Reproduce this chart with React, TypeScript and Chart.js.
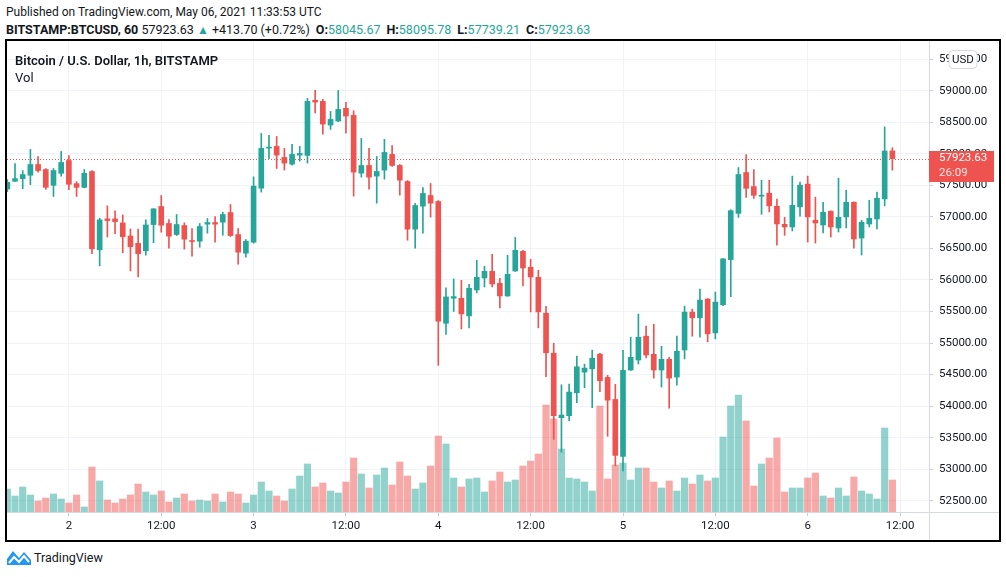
import React, { useEffect, useRef } from "react";
import { Chart, registerables } from "chart.js";

Chart.register(...registerables);

// ---- data (hourly candles, BITSTAMP BTC/USD, May 1 16:00 -> May 6 11:00 UTC) ----
const opens = [
  57441, 57564, 57606, 57660, 57830, 57750, 57500, 57691, 57894, 57527,
  57468, 57718, 56478, 56968, 56968, 56904, 56697, 56580, 56463, 56878,
  57164, 56895, 56720, 56863, 56625, 56614, 56884, 56910, 56916, 57069,
  56720, 56424, 56598, 57455, 58090, 58117, 57942, 57836, 57979, 57974,
  58847, 58831, 58455, 58519, 58720, 58609, 57693, 57815, 57646, 57741,
  57990, 57815, 57561, 56805, 57170, 57339, 57244, 55313, 55710, 55709,
  55430, 55841, 56031, 56136, 55947, 55746, 56142, 56453, 56200, 56042,
  55472, 54839, 53816, 53848, 54212, 54539, 54591, 54824, 54455, 54105,
  53202, 54572, 54731, 55108, 54821, 54572, 54741, 54460, 54890, 55490,
  55400, 55697, 55161, 55607, 56323, 57055, 57703, 57480, 57328, 57375,
  57168, 56882, 56840, 57158, 57519, 56946, 56871, 57089, 56824, 56999,
  57232, 56664, 56887, 56967, 57285, 58045.67,
];
const highs = [
  57590, 57846, 57734, 58069, 57957, 57766, 57766, 58037, 57973, 57558,
  57750, 57734, 56979, 57175, 57096, 57032, 56808, 56808, 56952, 57128,
  57339, 56958, 57037, 56905, 56815, 56895, 56974, 57006, 57074, 57196,
  56815, 56641, 57635, 58323, 58291, 58275, 58085, 58148, 58117, 58878,
  59005, 58862, 58672, 59005, 58815, 58683, 58244, 58085, 57958, 58228,
  58132, 57830, 57575, 57212, 57466, 57529, 57260, 55874, 56016, 55994,
  55931, 56310, 56216, 56405, 56026, 56390, 56674, 56469, 56326, 56152,
  55583, 54997, 54338, 54349, 54792, 54665, 54887, 54835, 54487, 54344,
  54885, 55092, 55458, 55267, 55299, 54948, 54773, 55108, 55585, 55538,
  55856, 55705, 55808, 56340, 57114, 57782, 57989, 57751, 57582, 57582,
  57280, 56993, 57646, 57550, 57646, 57312, 57232, 57095, 57614, 57423,
  57240, 56946, 57264, 57391, 58426, 58095.78,
];
const lows = [
  57400, 57560, 57447, 57511, 57707, 57436, 57324, 57644, 57431, 57324,
  57460, 56415, 56223, 56681, 56734, 56431, 56143, 56048, 56393, 56590,
  56757, 56503, 56704, 56487, 56376, 56519, 56741, 56598, 56709, 56688,
  56249, 56360, 56582, 57392, 57921, 57767, 57741, 57820, 57884, 57852,
  58646, 58312, 58386, 58510, 58328, 57328, 57630, 57439, 57217, 57598,
  57799, 57344, 56630, 56503, 56741, 56995, 54646, 55138, 55500, 55224,
  55240, 55794, 55889, 55889, 55556, 55740, 56135, 55904, 55493, 55240,
  54465, 53474, 53268, 53769, 54054, 54291, 53975, 54228, 53521, 53054,
  52974, 54565, 54667, 54763, 54444, 54301, 53966, 54333, 54747, 55108,
  55092, 55018, 55065, 55591, 55734, 56992, 57310, 57294, 57041, 57078,
  56553, 56707, 56776, 57009, 56601, 56585, 56744, 56680, 56760, 56824,
  56505, 56394, 56840, 56808, 57174, 57739.21,
];
const closes = [
  57548, 57606, 57670, 57830, 57734, 57468, 57734, 57862, 57516, 57468,
  57691, 56494, 56952, 56941, 56925, 56686, 56526, 56415, 56872, 57128,
  56868, 56694, 56879, 56646, 56609, 56847, 56910, 56884, 57037, 56704,
  56440, 56614, 57487, 58085, 58106, 57979, 57852, 57990, 58005, 58831,
  58820, 58471, 58545, 58704, 58598, 57709, 57815, 57630, 57720, 58021,
  57815, 57582, 56805, 57180, 57371, 57217, 55345, 55731, 55736, 55461,
  55868, 56042, 56136, 55936, 55746, 56089, 56469, 56189, 56047, 55493,
  54845, 53848, 53858, 54222, 54623, 54602, 54760, 54402, 54094, 53218,
  54566, 54773, 55092, 54810, 54572, 54741, 54444, 54869, 55490, 55400,
  55681, 55145, 55649, 56334, 57098, 57671, 57453, 57342, 57344, 57174,
  56887, 56840, 57184, 57503, 56999, 56903, 57073, 56840, 56993, 57232,
  56649, 56914, 56977, 57296, 58044, 57923.63,
];
const volumes = [
  69, 48, 75, 51, 33, 42, 54, 39, 27, 51,
  15, 135, 93, 36, 27, 39, 51, 84, 60, 51,
  63, 30, 42, 54, 33, 36, 33, 54, 30, 60,
  54, 27, 51, 90, 63, 48, 33, 69, 108, 144,
  75, 87, 63, 57, 90, 162, 114, 72, 111, 132,
  81, 150, 108, 69, 87, 138, 228, 204, 102, 75,
  99, 102, 60, 93, 120, 90, 96, 138, 153, 174,
  321, 279, 189, 102, 99, 90, 63, 318, 99, 141,
  147, 96, 132, 132, 90, 72, 93, 63, 102, 84,
  111, 93, 102, 225, 318, 351, 273, 78, 144, 162,
  222, 60, 72, 72, 102, 117, 48, 42, 72, 48,
  105, 63, 54, 39, 252, 96,
];
const timeTickHours = [8, 20, 32, 44, 56, 68, 80, 92, 104, 116];
const timeTickLabels = ["2", "12:00", "3", "12:00", "4", "12:00", "5", "12:00", "6", "12:00"];
const priceTicks = [52500, 53000, 53500, 54000, 54500, 55000, 55500, 56000, 56500, 57000, 57500, 58000, 58500, 59000, 59500];
const countdown = "26:09";
const changeText = "+413.70 (+0.72%)";

const UP = "#26a69a";
const DOWN = "#ef5350";
const UP_VOL = "rgba(38,166,154,0.5)";
const DOWN_VOL = "rgba(239,83,80,0.5)";
const TEXT = "#131722";
const FONT = "Roboto, 'Liberation Sans', sans-serif";

const last = closes.length - 1;

const overlayPlugin = {
  id: "tvOverlay",
  beforeDatasetsDraw(chart: any) {
    const { ctx, chartArea, scales } = chart;
    const py = Math.round(scales.y.getPixelForValue(closes[last])) + 0.5;
    ctx.save();
    ctx.strokeStyle = DOWN;
    ctx.lineWidth = 1;
    ctx.setLineDash([1, 2]);
    ctx.beginPath();
    ctx.moveTo(chartArea.left, py);
    ctx.lineTo(chartArea.right, py);
    ctx.stroke();
    ctx.restore();
  },
  afterDraw(chart: any) {
    const { ctx, chartArea, scales } = chart;
    const W = chart.width;
    const H = chart.height;
    ctx.save();
    ctx.strokeStyle = "#d6d9e0";
    ctx.lineWidth = 1;
    const rx = Math.round(chartArea.right) + 0.5;
    const by = Math.round(chartArea.bottom) + 0.5;
    ctx.beginPath();
    ctx.moveTo(rx, 0);
    ctx.lineTo(rx, H);
    ctx.moveTo(0, by);
    ctx.lineTo(W, by);
    ctx.stroke();
    const py = scales.y.getPixelForValue(closes[last]);
    ctx.fillStyle = DOWN;
    ctx.fillRect(rx - 0.5, Math.round(py) - 8, 65, 31);
    ctx.fillStyle = "#ffffff";
    ctx.font = `11.5px ${FONT}`;
    ctx.textBaseline = "middle";
    ctx.textAlign = "left";
    ctx.fillText(closes[last].toFixed(2), rx + 9.5, py);
    ctx.fillStyle = "rgba(255,255,255,0.85)";
    ctx.fillText(countdown, rx + 9.5, py + 15);
    const bx = rx + 19.5;
    const bw = 28;
    const byy = 9.5;
    const bh = 18;
    ctx.beginPath();
    ctx.roundRect(bx, byy, bw, bh, 4);
    ctx.fillStyle = "#ffffff";
    ctx.fill();
    ctx.strokeStyle = "#d6d9e0";
    ctx.stroke();
    ctx.fillStyle = TEXT;
    ctx.textAlign = "center";
    ctx.fillText("USD", bx + bw / 2, byy + bh / 2 + 0.5);
    ctx.restore();
  },
};

function ChartView() {
  const ref = useRef<HTMLCanvasElement | null>(null);
  useEffect(() => {
    if (!ref.current) return;
    const candleColor = opens.map((o, i) => (closes[i] >= o ? UP : DOWN));
    const volColor = opens.map((o, i) => (closes[i] >= o ? UP_VOL : DOWN_VOL));
    const chart = new Chart(ref.current, {
      type: "bar",
      data: {
        datasets: [
          {
            label: "body",
            data: opens.map((o, i) => ({ x: i, y: [o, closes[i]] })) as any,
            backgroundColor: candleColor,
            borderWidth: 0,
            barThickness: 5,
            maxBarThickness: 5,
            minBarLength: 1,
            grouped: false,
            order: 0,
            yAxisID: "y",
          },
          {
            label: "wick",
            data: lows.map((l, i) => ({ x: i, y: [l, highs[i]] })) as any,
            backgroundColor: candleColor,
            borderWidth: 0,
            barThickness: 1,
            maxBarThickness: 1,
            grouped: false,
            order: 1,
            yAxisID: "y",
          },
          {
            label: "volume",
            data: volumes.map((v, i) => ({ x: i, y: v })) as any,
            backgroundColor: volColor,
            borderWidth: 0,
            barThickness: 6.5,
            maxBarThickness: 6.5,
            grouped: false,
            order: 2,
            yAxisID: "yVol",
          },
        ],
      },
      options: {
        animation: false,
        responsive: false,
        events: [],
        layout: { padding: 0 },
        plugins: { legend: { display: false }, tooltip: { enabled: false } },
        font: { family: FONT },
        scales: {
          x: {
            type: "linear",
            min: -0.04,
            max: 119.76,
            offset: false,
            position: "bottom",
            grid: { color: "#f0f3fa", offset: false, tickLength: 4, tickColor: "#c9ccd4", drawTicks: true },
            border: { display: false },
            afterBuildTicks: (s: any) => {
              s.ticks = timeTickHours.map((v) => ({ value: v }));
            },
            ticks: {
              callback: (_v: any, i: number) => timeTickLabels[i],
              autoSkip: false,
              maxRotation: 0,
              padding: 3,
              color: TEXT,
              font: { family: FONT, size: 11.5 },
            },
            afterFit: (s: any) => {
              s.height = 28;
              s.paddingLeft = 0;
              s.paddingRight = 0;
            },
          },
          y: {
            type: "linear",
            position: "right",
            min: 52321,
            max: 59788,
            grid: { color: "#f0f3fa", tickLength: 4, tickColor: "#c9ccd4", drawTicks: true },
            border: { display: false },
            afterBuildTicks: (s: any) => {
              s.ticks = priceTicks.map((v) => ({ value: v }));
            },
            ticks: {
              callback: (v: any) => Number(v).toFixed(2),
              autoSkip: false,
              padding: 6,
              color: TEXT,
              font: { family: FONT, size: 11.5 },
            },
            afterFit: (s: any) => {
              s.width = 70;
              s.paddingTop = 0;
              s.paddingBottom = 0;
            },
          },
          yVol: {
            type: "linear",
            display: false,
            min: 0,
            max: 1413,
          },
        },
      } as any,
      plugins: [overlayPlugin],
    });
    return () => chart.destroy();
  }, []);
  return <canvas ref={ref} width={992} height={499} style={{ display: "block", width: 992, height: 499 }} />;
}

export default function App() {
  const bold = { fontWeight: 700 } as const;
  const teal = { color: UP } as const;
  return (
    <div
      style={{
        position: "absolute",
        left: 0,
        top: 0,
        width: 1006,
        height: 577,
        background: "#ffffff",
        fontFamily: FONT,
        color: TEXT,
        overflow: "hidden",
      }}
    >
      <div style={{ position: "absolute", left: 6, top: 5, fontSize: 12, lineHeight: "15px", whiteSpace: "nowrap" }}>
        Published on TradingView.com, May 06, 2021 11:33:53 UTC
      </div>
      <div style={{ position: "absolute", left: 6, top: 22, fontSize: 12.5, lineHeight: "15px", whiteSpace: "nowrap" }}>
        <span style={bold}>BITSTAMP:BTCUSD, 60</span> {closes[last].toFixed(2)}{" "}
        <span style={{ ...teal, fontSize: 12 }}>▲</span> {changeText}
        <span style={{ ...bold, marginLeft: 6 }}>O:</span>
        <span style={teal}>{opens[last].toFixed(2)}</span>
        <span style={{ ...bold, marginLeft: 6 }}>H:</span>
        <span style={teal}>{highs[last].toFixed(2)}</span>
        <span style={{ ...bold, marginLeft: 6 }}>L:</span>
        <span style={teal}>{lows[last].toFixed(2)}</span>
        <span style={{ ...bold, marginLeft: 6 }}>C:</span>
        <span style={teal}>{closes[last].toFixed(2)}</span>
      </div>
      <div
        style={{
          position: "absolute",
          left: 5,
          top: 39,
          width: 996,
          height: 503,
          boxSizing: "border-box",
          border: "2px solid #000000",
        }}
      >
        <div style={{ position: "relative", width: 992, height: 499 }}>
          <ChartView />
          <div
            style={{
              position: "absolute",
              left: 8,
              top: 12,
              fontSize: 13,
              fontWeight: 600,
              lineHeight: "15px",
              whiteSpace: "nowrap",
            }}
          >
            Bitcoin / U.S. Dollar, 1h, BITSTAMP
          </div>
          <div style={{ position: "absolute", left: 8, top: 29, fontSize: 13, lineHeight: "15px" }}>Vol</div>
        </div>
      </div>
      <div style={{ position: "absolute", left: 7, top: 549, display: "flex", alignItems: "center", gap: 3 }}>
        <svg width="24" height="17" viewBox="0 0 24 17">
          <path d="M0 16 L0 10 L6 2 L12 9 L17 3 L24 11 L24 16 Z" fill="#2196f3" />
          <path d="M2 14 L7 8 L12 13 L17 7 L22 13" stroke="#ffffff" strokeWidth="2" fill="none" />
        </svg>
        <span style={{ fontSize: 12.5, lineHeight: "17px" }}>TradingView</span>
      </div>
    </div>
  );
}
